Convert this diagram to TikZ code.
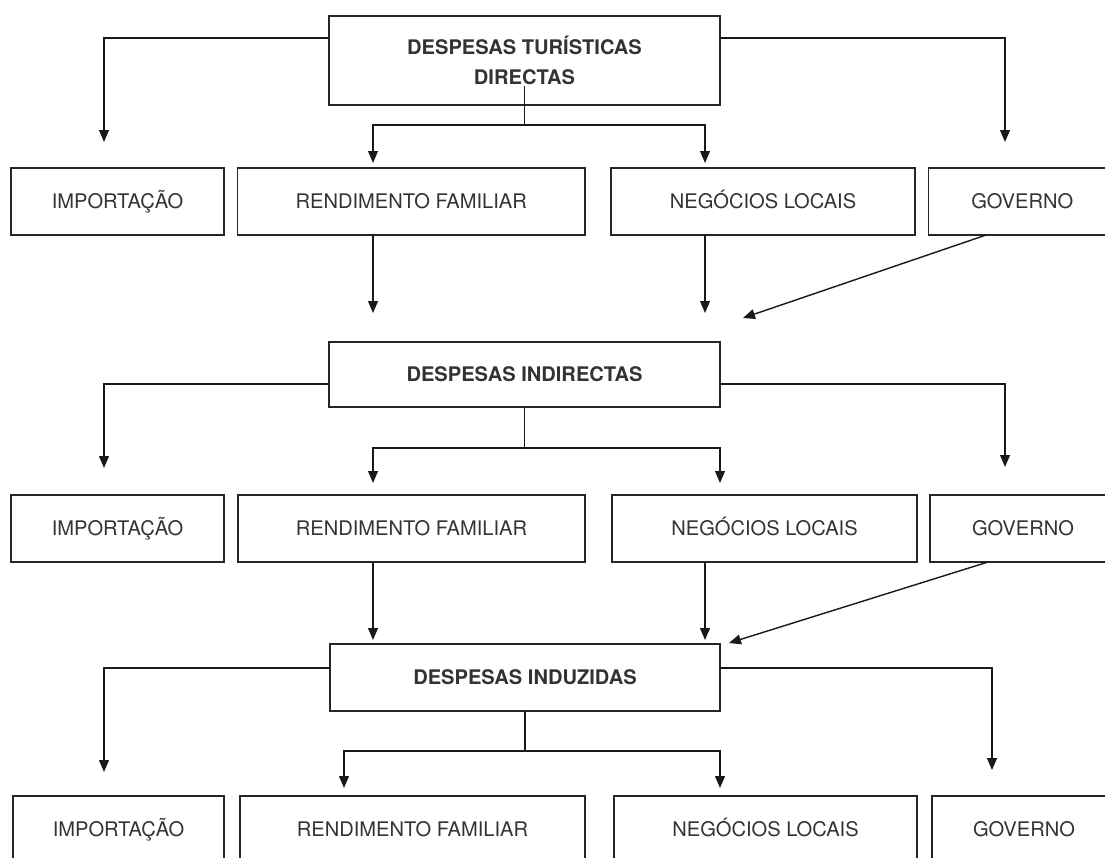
\documentclass[tikz,border=0pt]{standalone}
\usepackage{fontspec}
\setmainfont{TeX Gyre Heros}
\usetikzlibrary{arrows.meta}

\tikzset{
  box/.style={draw=black!85, line width=1.3pt, inner sep=0pt, outer sep=0pt,
    minimum height=1.675cm, text=black!80, text height=10.3pt, text depth=0pt,
    font=\fontsize{14.3}{21}\selectfont},
  mainbox/.style={box, align=center, font=\fontsize{14.3}{21}\selectfont\bfseries},
  arr/.style={draw=black!90, line width=1pt, -{Triangle[width=7pt,length=8.5pt]}}
}

\begin{document}
\begin{tikzpicture}[x=0.025cm, y=-0.025cm]

\useasboundingbox (0,0) rectangle (1105,857);
\clip (0,0) rectangle (1105,857);

% arrow tips
\coordinate (l1) at (104,142);
\coordinate (r1) at (1005,142);
\coordinate (a1) at (373,163);
\coordinate (b1) at (705,163);
\coordinate (c1) at (373,313);
\coordinate (e1) at (705,313);
\coordinate (g1) at (743,318);

\coordinate (l2) at (104,468);
\coordinate (r2) at (1005,467);
\coordinate (a2) at (373,483);
\coordinate (b2) at (720,483);
\coordinate (c2) at (373,640);
\coordinate (e2) at (705,640);
\coordinate (g2) at (729,643);

\coordinate (l3) at (104,772);
\coordinate (r3) at (992,770);
\coordinate (a3) at (344,788);
\coordinate (b3) at (720,788);

% first level
\node[mainbox, text height=, text depth=, minimum width=9.775cm, minimum height=2.225cm] (d1) at (524.5,60.5) {DESPESAS TURÍSTICAS\\DIRECTAS};
\node[box, minimum width=5.325cm] (imp1) at (117.5,201.5) {IMPORTAÇÃO};
\node[box, minimum width=8.6875cm] (rf1) at (411.25,201.5) {RENDIMENTO FAMILIAR};
\node[box, minimum width=7.6cm] (ng1) at (763,201.5) {NEGÓCIOS LOCAIS};
\node[box, minimum width=4.6875cm] (gv1) at (1022.25,201.5) {GOVERNO};

\draw[arr] ([yshift=0.5625cm]d1.west) -| (l1);
\draw[arr] ([yshift=0.5625cm]d1.east) -| (r1);
\draw[arr] ([yshift=0.475cm]d1.south) -- ++(0,39) -| (a1);
\draw[arr] ([yshift=0.475cm]d1.south) -- ++(0,39) -| (b1);

\draw[arr] (c1 |- rf1.south) -- (c1);
\draw[arr] (e1 |- ng1.south) -- (e1);
\draw[arr] ([xshift=1.44cm]gv1.south west) -- (g1);

% second level
\node[mainbox, minimum width=9.775cm, minimum height=1.625cm] (d2) at (524.5,374.5) {DESPESAS INDIRECTAS};
\node[box, minimum width=5.325cm] (imp2) at (117.5,528.5) {IMPORTAÇÃO};
\node[box, minimum width=8.675cm] (rf2) at (411.5,528.5) {RENDIMENTO FAMILIAR};
\node[box, minimum width=7.625cm] (ng2) at (764.5,528.5) {NEGÓCIOS LOCAIS};
\node[box, minimum width=4.65cm] (gv2) at (1023,528.5) {GOVERNO};

\draw[arr] ([yshift=-0.2375cm]d2.west) -| (l2);
\draw[arr] ([yshift=-0.2375cm]d2.east) -| (r2);
\draw[arr] (d2.south) -- ++(0,41) -| (a2);
\draw[arr] (d2.south) -- ++(0,41) -| (b2);

\draw[arr] (c2 |- rf2.south) -- (c2);
\draw[arr] (e2 |- ng2.south) -- (e2);
\draw[arr] ([xshift=1.45cm]gv2.south west) -- (g2);

% third level
\node[mainbox, minimum width=9.75cm] (d3) at (525,677.5) {DESPESAS INDUZIDAS};
\node[box, minimum width=5.275cm] (imp3) at (118.5,829.5) {IMPORTAÇÃO};
\node[box, minimum width=8.625cm] (rf3) at (412.5,829.5) {RENDIMENTO FAMILIAR};
\node[box, minimum width=7.575cm] (ng3) at (765.5,829.5) {NEGÓCIOS LOCAIS};
\node[box, minimum width=4.6cm] (gv3) at (1024,829.5) {GOVERNO};

\draw[arr] ([yshift=0.2375cm]d3.west) -| (l3);
\draw[arr] ([yshift=0.2375cm]d3.east) -| (r3);
\draw[arr] (d3.south) -- ++(0,40) -| (a3);
\draw[arr] (d3.south) -- ++(0,40) -| (b3);

\end{tikzpicture}
\end{document}
